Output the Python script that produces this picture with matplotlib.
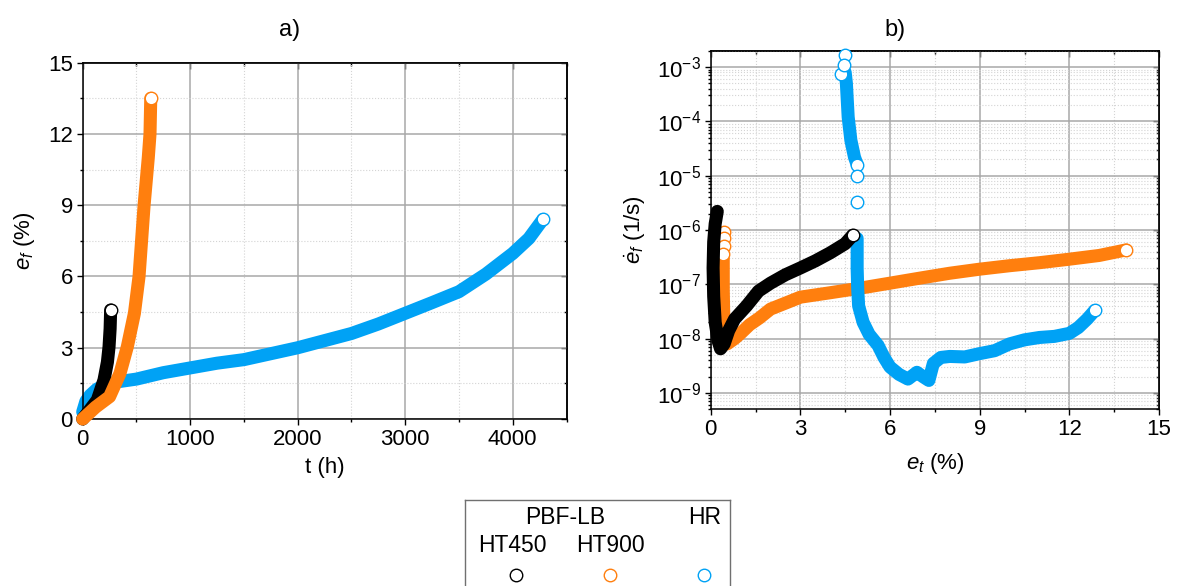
import numpy as np
import matplotlib
matplotlib.use('Agg')
import matplotlib.pyplot as plt
from matplotlib.ticker import MultipleLocator, LogLocator, NullFormatter, LogFormatterSciNotation
from matplotlib.lines import Line2D

plt.rcParams['font.family'] = ['Liberation Sans', 'DejaVu Sans']
plt.rcParams['mathtext.fontset'] = 'custom'
plt.rcParams['mathtext.rm'] = 'Liberation Sans'
plt.rcParams['mathtext.it'] = 'Liberation Sans:italic'
plt.rcParams['mathtext.bf'] = 'Liberation Sans:bold'
plt.rcParams['axes.unicode_minus'] = False

# a) creep curves: strain e_f (%) vs time t (h)
t_ht450 = [0, 60, 136, 198, 230, 245, 255, 260]
ef_ht450 = [0, 0.35, 0.8, 1.64, 2.4, 3.04, 3.8, 4.59]
t_ht900 = [0, 120, 250, 347, 415, 481, 524, 571, 610, 626, 633]
ef_ht900 = [0, 0.5, 0.94, 1.92, 3.04, 4.45, 6.0, 9.0, 11.0, 12.0, 13.5]
t_hr = [0, 30, 70, 130, 192, 300, 500, 750, 1000, 1250, 1500, 1750, 2000, 2250, 2500,
        2750, 3000, 3250, 3500, 3750, 4000, 4150, 4280]
ef_hr = [0.3, 0.75, 1.0, 1.25, 1.4, 1.55, 1.68, 1.95, 2.15, 2.35, 2.5, 2.75, 3.0, 3.3, 3.6,
         4.0, 4.45, 4.9, 5.36, 6.1, 6.97, 7.6, 8.4]

# b) strain rate (1/s) vs total strain e_t (%)
et_ht450 = [0.22, 0.15, 0.1, 0.08, 0.1, 0.15, 0.25, 0.33, 0.45, 0.6, 0.8, 1.2, 1.6, 2.0,
            2.5, 3.0, 3.5, 4.0, 4.5, 4.75]
rate_ht450 = [2.2e-6, 1.3e-6, 6e-7, 2e-7, 6e-8, 2e-8, 9e-9, 6.5e-9, 8e-9, 1.4e-8, 2.3e-8,
              4e-8, 7.5e-8, 1.05e-7, 1.5e-7, 2.0e-7, 2.7e-7, 3.8e-7, 5.6e-7, 8e-7]
et_ht900_top = [0.45, 0.44, 0.43, 0.42]
rate_ht900_top = [9.3e-7, 7e-7, 5e-7, 3.6e-7]
et_ht900 = [0.42, 0.42, 0.44, 0.47, 0.55, 0.8, 1.0, 1.3, 1.63, 2.0, 2.5, 3.0, 4.0, 5.0,
            6.0, 7.0, 8.0, 9.0, 10.0, 11.0, 12.0, 13.0, 13.9]
rate_ht900 = [3e-7, 8e-8, 2e-8, 1e-8, 8e-9, 1e-8, 1.25e-8, 1.8e-8, 2.4e-8, 3.5e-8, 4.5e-8,
              5.8e-8, 7e-8, 8.5e-8, 1.05e-7, 1.3e-7, 1.6e-7, 1.9e-7, 2.2e-7, 2.5e-7,
              2.9e-7, 3.4e-7, 4.3e-7]
et_hr_sparse = [4.48, 4.35, 4.47, 4.9, 4.9]
rate_hr_sparse = [1.64e-3, 7.5e-4, 1.1e-3, 1e-5, 3.3e-6]
et_hr_top = [4.5, 4.54, 4.6, 4.69, 4.81, 4.9]
rate_hr_top = [8e-4, 5e-4, 1.2e-4, 4.5e-5, 2.2e-5, 1.6e-5]
et_hr = [4.9, 4.9, 4.92, 4.95, 5.1, 5.3, 5.6, 5.8, 6.0, 6.3, 6.6, 6.9, 7.1, 7.3, 7.45, 7.7,
         8.0, 8.5, 9.0, 9.5, 10.0, 10.5, 11.0, 11.5, 12.0, 12.3, 12.6, 12.85]
rate_hr = [7e-7, 2e-7, 8e-8, 4e-8, 2e-8, 1.2e-8, 7.5e-9, 4.5e-9, 3e-9, 2.2e-9, 1.8e-9,
           2.4e-9, 2.0e-9, 1.7e-9, 3.5e-9, 4.5e-9, 4.7e-9, 4.6e-9, 5.3e-9, 6e-9, 8e-9,
           9.5e-9, 1.05e-8, 1.1e-8, 1.25e-8, 1.6e-8, 2.3e-8, 3.3e-8]

black = '#000000'
orange = '#ff7f0e'
blue = '#00a2f5'
MS = 9
LW = 9.4
FS_TICK = 16
FS_LAB = 16


def band(ax, x, y, c, z):
    # dense open circles in the original look like a thick band
    ax.plot(x, y, color=c, lw=LW, solid_capstyle='round', solid_joinstyle='round',
            clip_on=False, zorder=z)
    ax.plot(x[-1], y[-1], 'o', ms=MS, mfc='white', mec=c, mew=1.0, clip_on=False, zorder=z + 0.1)


def style(ax):
    ax.set_axisbelow(True)
    ax.grid(which='major', color='#a8a8a8', lw=1.1)
    ax.grid(which='minor', color='#d4d4d4', ls=':', lw=0.8)
    for s in ax.spines.values():
        s.set_linewidth(1.1)
    ax.tick_params(which='both', direction='out', labelsize=FS_TICK, width=1.0,
                   top=False, right=False, pad=3)
    ax.tick_params(which='major', length=4)
    ax.tick_params(which='minor', length=2.5)
    sx = ax.secondary_xaxis('top')
    sy = ax.secondary_yaxis('right')
    for sa in (sx, sy):
        sa.tick_params(which='both', direction='in', width=1.0, labeltop=False,
                       labelright=False)
        sa.tick_params(which='major', length=4)
        sa.tick_params(which='minor', length=2.5)
        for s in sa.spines.values():
            s.set_linewidth(1.1)
    return sx, sy


fig = plt.figure(figsize=(11.78, 5.86), dpi=100)

ax1 = fig.add_axes([82.7 / 1178, 1 - 419 / 586, (566.5 - 82.7) / 1178, (419 - 62.7) / 586])
band(ax1, t_hr, ef_hr, blue, 2)
band(ax1, t_ht450, ef_ht450, black, 3)
band(ax1, t_ht900, ef_ht900, orange, 4)
ax1.set_xlim(0, 4500)
ax1.set_ylim(0, 15)
ax1.xaxis.set_major_locator(MultipleLocator(1000))
ax1.xaxis.set_minor_locator(MultipleLocator(500))
ax1.yaxis.set_major_locator(MultipleLocator(3))
ax1.yaxis.set_minor_locator(MultipleLocator(1.5))
sx, sy = style(ax1)
sx.xaxis.set_major_locator(MultipleLocator(1000))
sx.xaxis.set_minor_locator(MultipleLocator(500))
sy.yaxis.set_major_locator(MultipleLocator(3))
sy.yaxis.set_minor_locator(MultipleLocator(1.5))
ax1.set_xlabel('t (h)', fontsize=FS_LAB, labelpad=5)
ax1.set_ylabel(r'$e_f$ (%)', fontsize=FS_LAB, labelpad=8)

ax2 = fig.add_axes([710.7 / 1178, 1 - 409.3 / 586, (1159 - 710.7) / 1178, (409.3 - 50.7) / 586])
ax2.set_yscale('log')
band(ax2, et_ht900, rate_ht900, orange, 2)
ax2.plot(et_ht900_top, rate_ht900_top, 'o', ms=MS, mfc='white', mec=orange, mew=1.0,
         clip_on=False, zorder=2.2)
band(ax2, et_hr_top, rate_hr_top, blue, 3)
band(ax2, et_hr, rate_hr, blue, 3)
ax2.plot(et_hr_sparse, rate_hr_sparse, 'o', ms=MS, mfc='white', mec=blue, mew=1.0,
         clip_on=False, zorder=3.2)
band(ax2, et_ht450, rate_ht450, black, 4)
ax2.set_xlim(0, 15)
ax2.set_ylim(5e-10, 2e-3)
ax2.xaxis.set_major_locator(MultipleLocator(3))
ax2.xaxis.set_minor_locator(MultipleLocator(1.5))
ax2.yaxis.set_major_locator(LogLocator(base=10, numticks=20))
ax2.yaxis.set_minor_locator(LogLocator(base=10, subs=np.arange(2, 10), numticks=20))
ax2.yaxis.set_major_formatter(LogFormatterSciNotation())
ax2.yaxis.set_minor_formatter(NullFormatter())
sx2, sy2 = style(ax2)
sx2.xaxis.set_major_locator(MultipleLocator(3))
sx2.xaxis.set_minor_locator(MultipleLocator(1.5))
sy2.yaxis.set_major_locator(LogLocator(base=10, numticks=20))
sy2.yaxis.set_minor_locator(LogLocator(base=10, subs=np.arange(2, 10), numticks=20))
sy2.yaxis.set_minor_formatter(NullFormatter())
ax2.set_xlabel(r'$e_t$ (%)', fontsize=FS_LAB, labelpad=8)
ax2.set_ylabel(r'$\dot{e}_f$ (1/s)', fontsize=FS_LAB, labelpad=6)

fig.text(290 / 1178, 1 - 30 / 586, 'a)', fontsize=17, ha='center', va='center')
fig.text(895 / 1178, 1 - 30 / 586, 'b)', fontsize=17, ha='center', va='center')

# legend box
lax = fig.add_axes([465 / 1178, -0.05, 265 / 1178, (586 - 500) / 586 + 0.05])
lax.set_xticks([])
lax.set_yticks([])
lax.patch.set_alpha(0)
for s in lax.spines.values():
    s.set_color('#707070')
    s.set_linewidth(1.0)
fig.text(565 / 1178, 1 - 518 / 586, 'PBF-LB', fontsize=16.5, ha='center', va='center')
fig.text(705 / 1178, 1 - 518 / 586, 'HR', fontsize=16.5, ha='center', va='center')
fig.text(512 / 1178, 1 - 546 / 586, 'HT450', fontsize=16.5, ha='center', va='center')
fig.text(610 / 1178, 1 - 546 / 586, 'HT900', fontsize=16.5, ha='center', va='center')
for xp, c in ((516, black), (610, orange), (704, blue)):
    fig.add_artist(Line2D([xp / 1178], [1 - 575 / 586], transform=fig.transFigure,
                          marker='o', ms=9, mfc='white', mec=c, mew=1.0, ls='none'))

fig.savefig('out.png', dpi=100)
